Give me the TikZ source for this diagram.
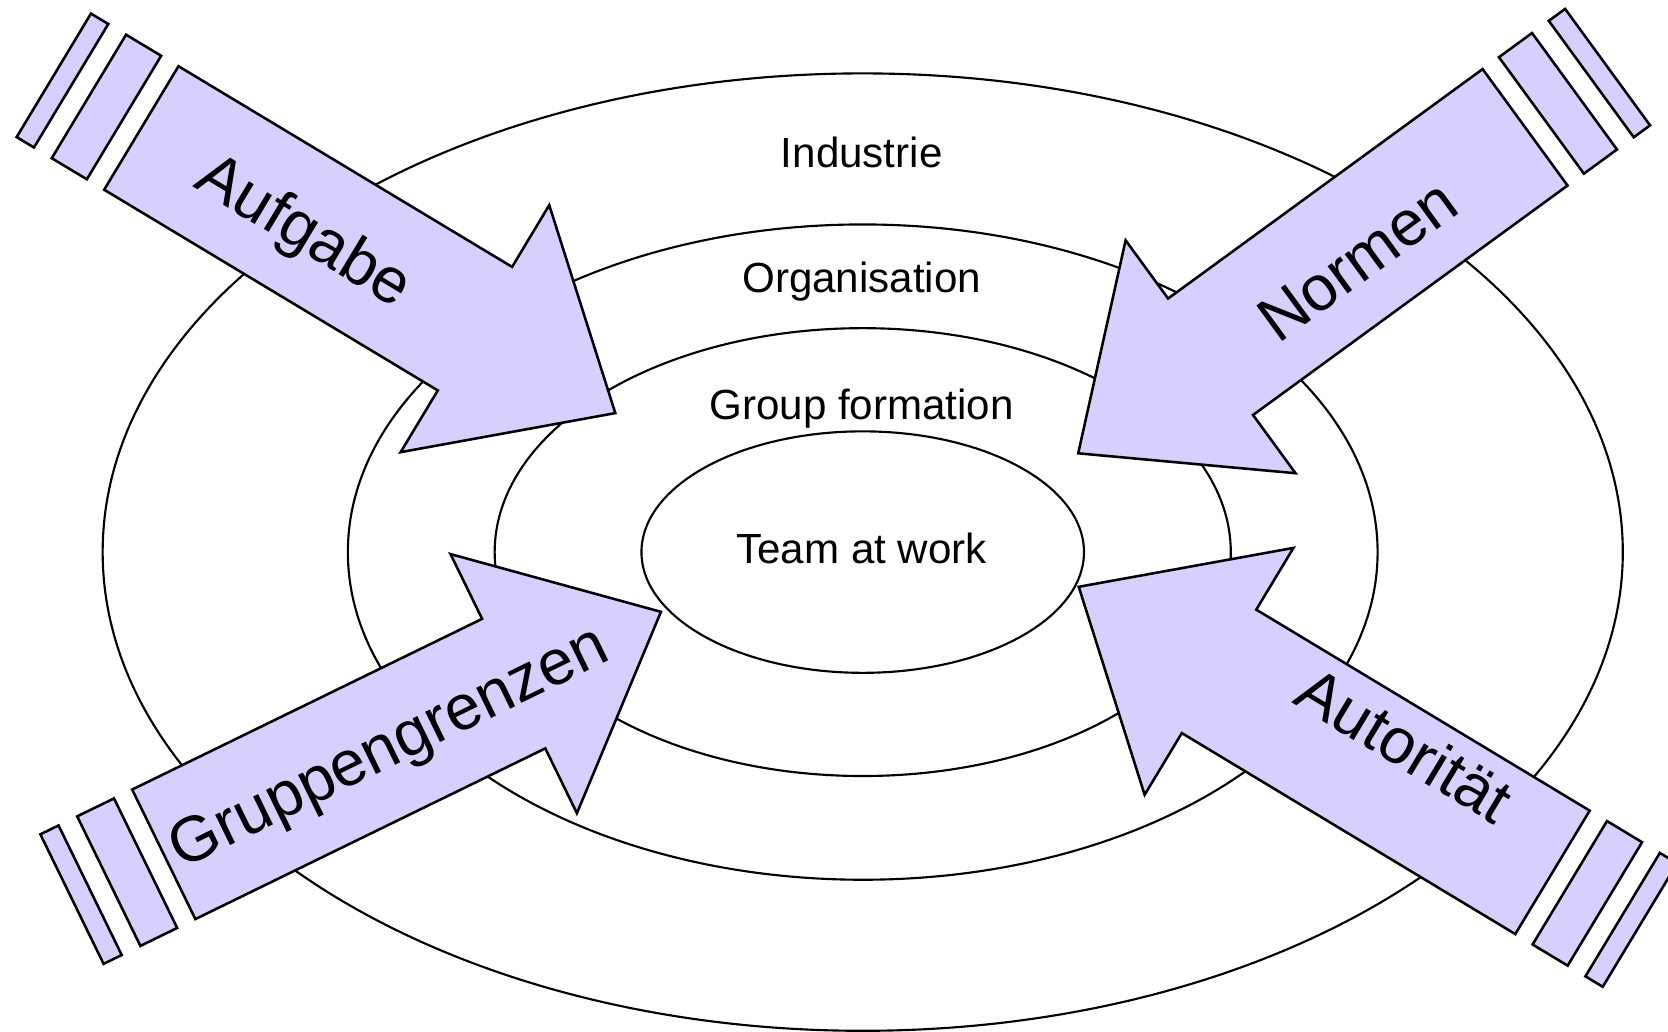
\documentclass[tikz,border=0pt]{standalone}
\usepackage{fontspec}
\setmainfont{Liberation Sans}
\definecolor{arrowfill}{RGB}{214,208,255}
\tikzset{
  ring/.style={draw=black, line width=1pt},
  blockarrow/.style={draw=black, fill=arrowfill, line width=1.2pt, line join=miter},
  ringlabel/.style={font=\fontsize{19.8}{24}\selectfont, anchor=base, inner sep=0pt},
  arrowlabel/.style={font=\fontsize{30}{36}\selectfont, anchor=base, inner sep=0pt, transform shape},
}
\newcommand{\forcebody}{%
  \draw[blockarrow] (0,-67.75) -- (366,-67.75) -- (366,-135.5) -- (520,0) -- (366,135.5) -- (366,67.75) -- (0,67.75) -- cycle;
  \draw[blockarrow] (-57.5,-67.75) rectangle (-19,67.75);
  \draw[blockarrow] (-96,-67.75) rectangle (-77,67.75);
}
\begin{document}
\begin{tikzpicture}[x=0.5pt,y=0.5pt]
\useasboundingbox (0,0) rectangle (1568,970);
\clip (0,0) rectangle (1568,970);
% rings
\draw[ring] (811,451) ellipse [x radius=714.5, y radius=450];
\draw[ring] (811,451) ellipse [x radius=484, y radius=308];
\draw[ring] (811,451) ellipse [x radius=346, y radius=210.5];
\draw[ring] (811,451) ellipse [x radius=208, y radius=113.5];
\node[ringlabel] (industrie) at (810,812.8) {Industrie};
\node[ringlabel] (organisation) at (810,695.3) {Organisation};
\node[ringlabel] (group) at (810,575.3) {Group formation};
\node[ringlabel] (team) at (810,440) {Team at work};
% Aufgabe
\begin{scope}[shift={(132.85,849.7)}, rotate=-31.03]
  \forcebody
  \node[arrowlabel] (aufgabe) at (181,-22.2) {Aufgabe};
\end{scope}
% Normen
\begin{scope}[shift={(1433.65,850.3)}, rotate=-143.89]
  \forcebody
  \node[arrowlabel, rotate=180] (normen) at (201,28.7) {Normen};
\end{scope}
% Gruppengrenzen
\begin{scope}[shift={(153.95,166.9)}, rotate=26.0]
  \forcebody
  \node[arrowlabel] (gruppen) at (234,-20) {Gruppengrenzen};
\end{scope}
% Autoritaet
\begin{scope}[shift={(1459.4,149.95)}, rotate=148.92]
  \forcebody
  \node[arrowlabel, rotate=180] (autoritaet) at (181,-10) {Autorität};
\end{scope}
\end{tikzpicture}
\end{document}
